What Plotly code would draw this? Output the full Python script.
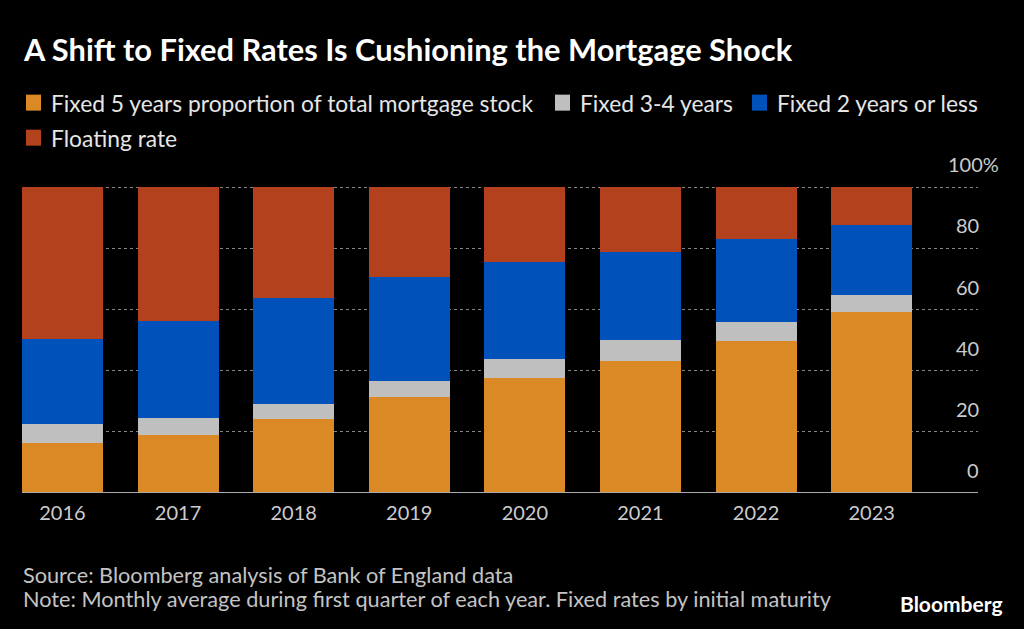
import plotly.graph_objects as go

years = ["2016", "2017", "2018", "2019", "2020", "2021", "2022", "2023"]
fixed5 = [16.3, 18.9, 24.2, 31.3, 37.6, 43.2, 49.8, 59.1]
fixed34 = [6.3, 5.6, 4.8, 5.3, 6.2, 6.9, 6.1, 5.6]
fixed2 = [27.8, 31.7, 34.8, 34.0, 31.6, 28.6, 27.2, 22.9]
floating = [49.6, 43.8, 36.2, 29.4, 24.6, 21.3, 16.9, 12.4]

series_names = ["Fixed 5 years proportion of total mortgage stock", "Fixed 3-4 years",
                "Fixed 2 years or less", "Floating rate"]
series_vals = [fixed5, fixed34, fixed2, floating]
colors = ["#DB8925", "#BFBFBF", "#0051BA", "#B3411E"]
yticks = [0, 20, 40, 60, 80, 100]

W, H = 1024, 629
YMAX = 100.4
L, R, B = 22, 978, 493
T = B - (B - 187.5) * YMAX / 100
FONT = "Lato"

def px(x):
    return (x - L) / (R - L)

def py(y):
    return (B - y) / (B - T)

fig = go.Figure()
for name, vals, c in zip(series_names, series_vals, colors):
    fig.add_trace(go.Bar(x=years, y=vals, name=name, marker=dict(color=c, line=dict(width=0)),
                         showlegend=False))

annotations = []
shapes = []

# title
annotations.append(dict(text="<b>A Shift to Fixed Rates Is Cushioning the Mortgage Shock</b>",
                        xref="paper", yref="paper", x=px(21), y=py(50), xanchor="left", yanchor="middle",
                        showarrow=False, font=dict(family=FONT, size=30.8, color="#ffffff")))

# legend (manual)
legend_pos = [(22, 103), (551, 103), (748, 103), (22, 138)]
for (lx, ly), name, c in zip(legend_pos, series_names, colors):
    shapes.append(dict(type="rect", xref="paper", yref="paper",
                       x0=px(lx + 4), x1=px(lx + 19), y0=py(ly - 8), y1=py(ly + 8),
                       fillcolor=c, line=dict(width=0)))
    annotations.append(dict(text=name, xref="paper", yref="paper", x=px(lx + 27), y=py(ly),
                            xanchor="left", yanchor="middle", showarrow=False,
                            font=dict(family=FONT, size=22.8, color="#e6e6e6")))

# y tick labels (right, above gridlines)
for v in yticks:
    label = f"{v}%" if v == 100 else f"{v}"
    xr = 1001 if v == 100 else 981
    annotations.append(dict(text=label, xref="paper", yref="y", x=px(xr), y=v,
                            xanchor="right", yanchor="bottom", yshift=9, showarrow=False,
                            font=dict(family=FONT, size=20, color="#cccccc")))

# baseline
shapes.append(dict(type="line", xref="paper", yref="y", x0=0, x1=1, y0=0, y1=0,
                   line=dict(color="#aaaaaa", width=2), layer="above"))

# footer
annotations.append(dict(text="Source: Bloomberg analysis of Bank of England data",
                        xref="paper", yref="paper", x=px(21), y=py(575), xanchor="left", yanchor="middle",
                        showarrow=False, font=dict(family=FONT, size=21.7, color="#c4c4c4")))
annotations.append(dict(text="Note: Monthly average during first quarter of each year. Fixed rates by initial maturity",
                        xref="paper", yref="paper", x=px(21), y=py(599), xanchor="left", yanchor="middle",
                        showarrow=False, font=dict(family=FONT, size=21.7, color="#c4c4c4")))
annotations.append(dict(text="<b>Bloomberg</b>",
                        xref="paper", yref="paper", x=px(1005), y=py(603), xanchor="right", yanchor="middle",
                        showarrow=False, font=dict(family=FONT, size=21, color="#ffffff")))

fig.update_layout(
    width=W, height=H,
    margin=dict(l=L, r=W - R, t=T, b=H - B, pad=0),
    paper_bgcolor="#000000", plot_bgcolor="#000000",
    barmode="stack", bargap=0.30,
    annotations=annotations, shapes=shapes,
    xaxis=dict(type="category", range=[-0.35, 7.92], showgrid=False, zeroline=False, showline=False,
               ticks="", ticklabelstandoff=6,
               tickfont=dict(family=FONT, size=20, color="#cccccc"), fixedrange=True),
    yaxis=dict(range=[0, YMAX], tickvals=yticks, showticklabels=False, showgrid=True,
               gridcolor="#858585", griddash="dot", gridwidth=1, zeroline=False, showline=False,
               fixedrange=True),
    font=dict(family=FONT),
)

fig.write_html("out.html", config={"displayModeBar": False},
               post_script="document.body.style.margin='0';document.body.style.background='#000';")
